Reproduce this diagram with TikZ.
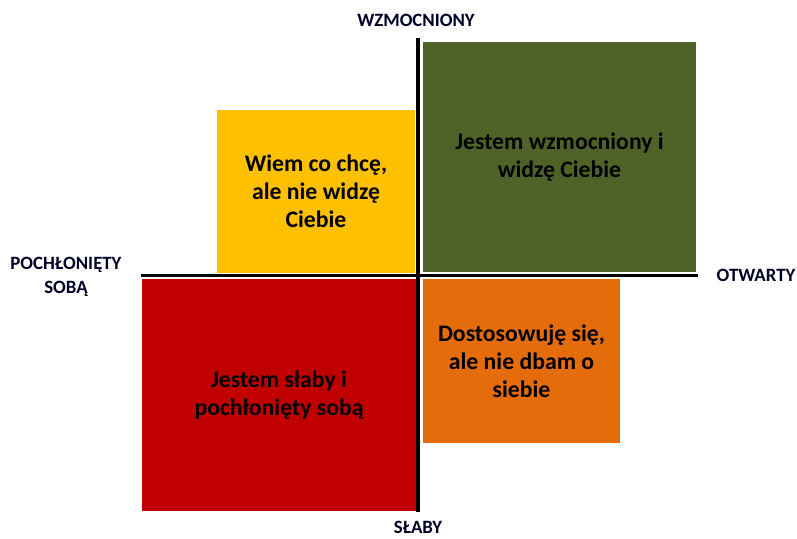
\documentclass[tikz,border=0pt]{standalone}
\usepackage{fontspec}
\setmainfont{Carlito}
\definecolor{OliveDark}{RGB}{79,98,40}
\definecolor{GoldYellow}{RGB}{255,192,0}
\definecolor{DeepRed}{RGB}{192,0,0}
\definecolor{BurntOrange}{RGB}{228,108,10}
\usetikzlibrary{positioning}

\begin{document}
\begin{tikzpicture}[x=0.02cm,y=-0.02cm,
      qd/.style={inner sep=0pt,align=center,text=black,
                 font=\fontsize{13.5}{16}\selectfont\bfseries},
      ax/.style={align=center,font=\fontsize{10.7}{14}\selectfont\bfseries,text=black!85!blue},
      axis/.style={line width=2.2pt,draw=black}]
    \useasboundingbox (0,0) rectangle (797,538);
    % four quadrants
    \node[qd,fill=OliveDark,minimum width=5.46cm,minimum height=4.6cm] (q1) at (559.5,157) {Jestem wzmocniony i\\ widzę Ciebie};
    \node[qd,fill=GoldYellow,minimum width=3.96cm,minimum height=3.26cm] (q2) at (316,191.5) {Wiem co chcę,\\ ale nie widzę\\ Ciebie};
    \node[qd,fill=DeepRed,minimum width=5.48cm,minimum height=4.64cm] (q3) at (279,395) {Jestem słaby i\\ pochłonięty sobą};
    \node[qd,fill=BurntOrange,minimum width=3.94cm,minimum height=3.28cm] (q4) at (521.5,361) {Dostosowuję się,\\ ale nie dbam o\\ siebie};
    % axes
    \coordinate (top) at (418,38);
    \coordinate (bot) at (418,512);
    \coordinate (lft) at (141,275.5);
    \coordinate (rgt) at (698,275.5);
    \draw[axis] (top) -- (bot);
    \draw[axis] (lft) -- (rgt);
    \node[ax] (up) at (416,20) {WZMOCNIONY};
    \node[ax] (down) at (418,527) {SŁABY};
    \node[ax] (left) at (66,277) {POCHŁONIĘTY\\ SOBĄ};
    \node[ax] (right) at (756,275) {OTWARTY};
\end{tikzpicture}
\end{document}
